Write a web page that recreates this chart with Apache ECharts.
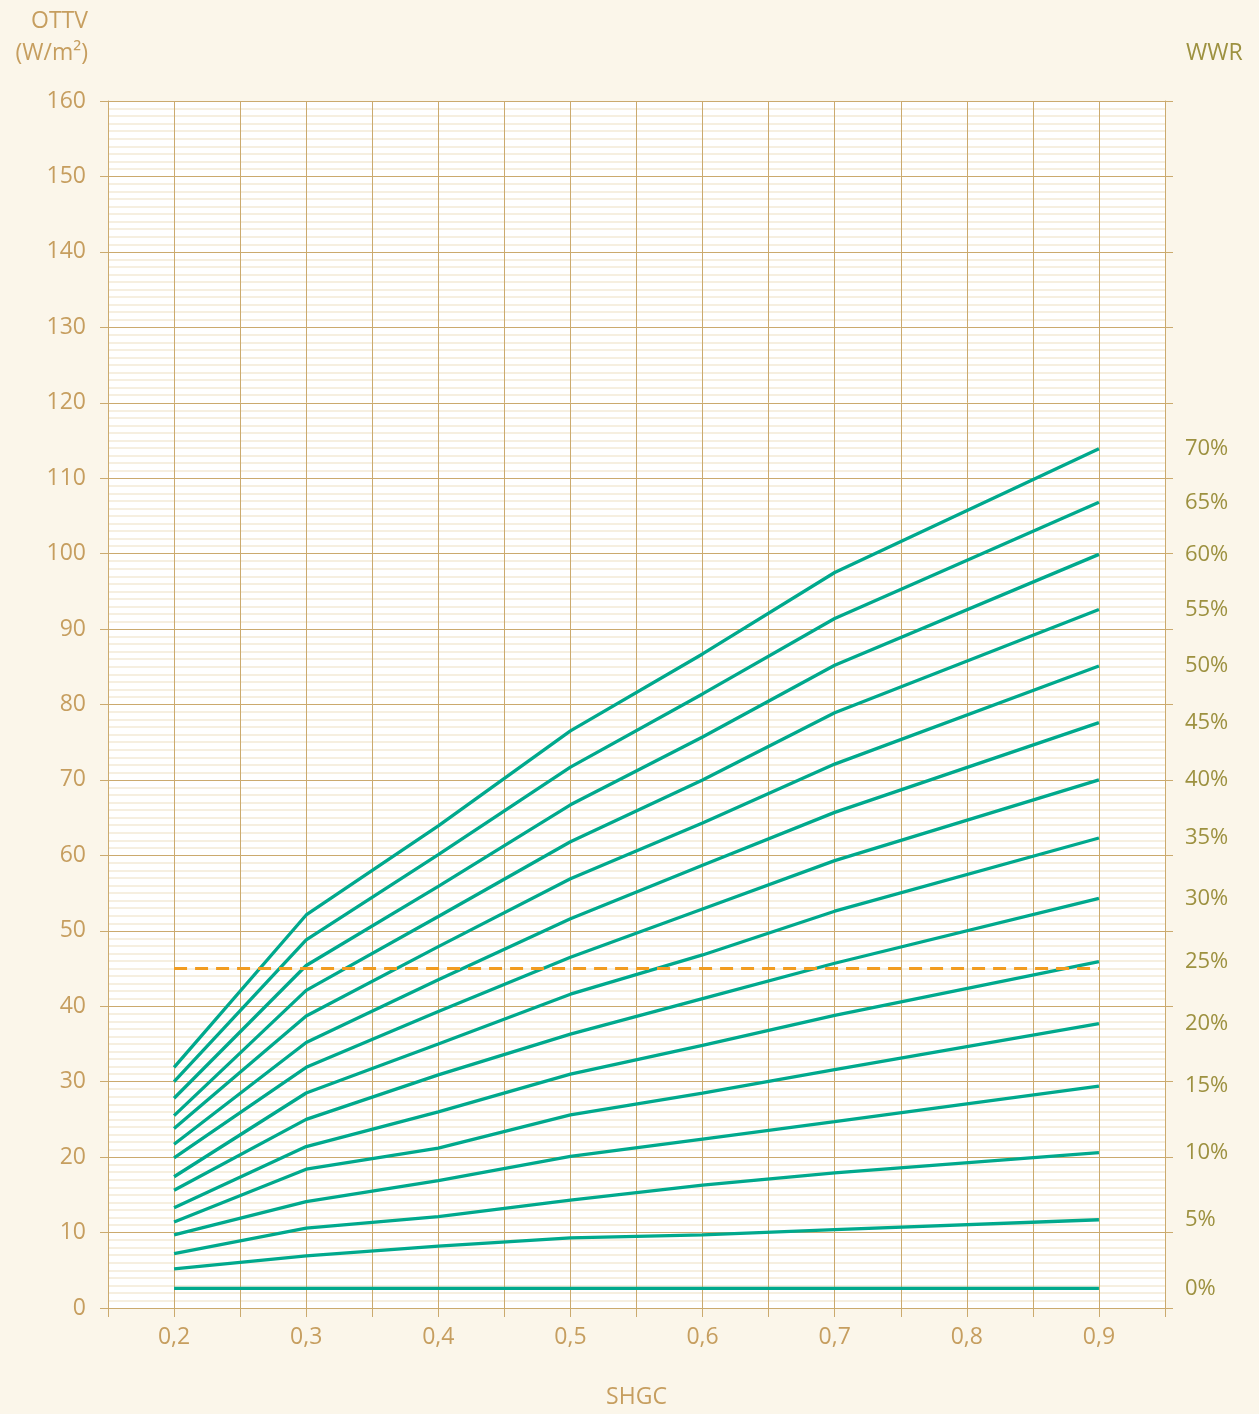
<!DOCTYPE html>
<html>
<head>
<meta charset="utf-8">
<script src="https://cdn.jsdelivr.net/npm/echarts@6/dist/echarts.min.js"></script>
<style>
html,body{margin:0;padding:0;background:#FBF6EA;width:1259px;height:1414px;overflow:hidden;}
#chart{width:1259px;height:1414px;}
</style>
</head>
<body>
<div id="chart"></div>
<script>
// SHGC positions of the read points
var shgc = [0.2, 0.3, 0.4, 0.5, 0.6, 0.7, 0.9];
// WWR labels for each curve (top to bottom)
var wwrLabels = ['70%', '65%', '60%', '55%', '50%', '45%', '40%', '35%', '30%', '25%', '20%', '15%', '10%', '5%', '0%'];
// OTTV values (W/m2) per curve
var wwr70 = [31.9, 52.1, 63.9, 76.5, 86.7, 97.5, 113.9];
var wwr65 = [30.0, 48.8, 60.1, 71.7, 81.4, 91.4, 106.8];
var wwr60 = [27.8, 45.4, 55.9, 66.7, 75.7, 85.2, 99.9];
var wwr55 = [25.5, 42.1, 51.9, 61.8, 70.0, 78.9, 92.6];
var wwr50 = [23.8, 38.7, 47.9, 56.9, 64.3, 72.1, 85.1];
var wwr45 = [21.7, 35.2, 43.5, 51.6, 58.7, 65.7, 77.6];
var wwr40 = [19.9, 31.9, 39.3, 46.5, 52.9, 59.3, 70.0];
var wwr35 = [17.4, 28.5, 35.0, 41.6, 46.8, 52.6, 62.3];
var wwr30 = [15.6, 25.0, 30.9, 36.3, 41.0, 45.7, 54.3];
var wwr25 = [13.3, 21.4, 26.0, 31.0, 34.8, 38.8, 45.9];
var wwr20 = [11.4, 18.4, 21.2, 25.6, 28.5, 31.6, 37.7];
var wwr15 = [9.7, 14.1, 16.9, 20.1, 22.4, 24.7, 29.4];
var wwr10 = [7.2, 10.6, 12.1, 14.3, 16.3, 17.9, 20.6];
var wwr5  = [5.2, 6.9, 8.2, 9.3, 9.7, 10.4, 11.7];
var wwr0  = [2.6, 2.6, 2.6, 2.6, 2.6, 2.6, 2.6];
// Reference limit line
var limitShgc = [0.2, 0.9];
var limitValue = [45, 45];
// Axis tick labels
var yTicks = [0, 10, 20, 30, 40, 50, 60, 70, 80, 90, 100, 110, 120, 130, 140, 150, 160];
var xTickLabels = ['0,2', '0,3', '0,4', '0,5', '0,6', '0,7', '0,8', '0,9'];

var curves = [wwr70, wwr65, wwr60, wwr55, wwr50, wwr45, wwr40, wwr35, wwr30, wwr25, wwr20, wwr15, wwr10, wwr5, wwr0];

var TAN = '#C69E5F';
var GRID = '#CBAA6E';
var MINOR = '#F4EAD6';
var OLIVE = '#9D9140';
var FONT = 'Open Sans';

function pairs(xs, ys) { return xs.map(function (x, i) { return [x, ys[i]]; }); }

var series = curves.map(function (vals, k) {
  return {
    type: 'line',
    data: pairs(shgc, vals),
    showSymbol: false,
    symbol: 'none',
    lineStyle: { color: '#00A98D', width: 3.3 },
    z: 3,
    endLabel: {
      show: true,
      distance: 86,
      formatter: function () { return wwrLabels[k]; },
      color: OLIVE,
      fontFamily: FONT,
      fontSize: 22
    }
  };
});
series.push({
  type: 'line',
  data: pairs(limitShgc, limitValue),
  showSymbol: false,
  symbol: 'none',
  lineStyle: { color: '#F29C1F', width: 3, type: [13, 8] },
  z: 4
});

var chart = echarts.init(document.getElementById('chart'), null, { renderer: 'canvas', width: 1259, height: 1414 });
chart.setOption({
  animation: false,
  backgroundColor: '#FBF6EA',
  textStyle: { fontFamily: FONT },
  grid: { left: 108, right: 94, top: 101, bottom: 97, show: true, backgroundColor: '#FFFFFF', borderWidth: 0 },
  xAxis: {
    type: 'value',
    min: 0.15, max: 0.95, interval: 0.05,
    name: 'SHGC', nameLocation: 'middle', nameGap: 78,
    nameTextStyle: { color: TAN, fontSize: 23, fontFamily: FONT },
    axisLine: { show: true, lineStyle: { color: GRID, width: 1 } },
    axisTick: { show: true, inside: false, length: 9, lineStyle: { color: GRID } },
    axisLabel: {
      color: TAN, fontSize: 23, fontFamily: FONT, margin: 18,
      showMinLabel: true, showMaxLabel: true,
      formatter: function (v) {
        var idx = Math.round(v * 10) - 2;
        if (Math.abs(v * 10 - Math.round(v * 10)) > 1e-6) return '';
        return (idx >= 0 && idx < xTickLabels.length) ? xTickLabels[idx] : '';
      }
    },
    splitLine: { show: true, lineStyle: { color: GRID, width: 1 } }
  },
  yAxis: [{
    type: 'value',
    min: yTicks[0], max: yTicks[yTicks.length - 1], interval: 10,
    position: 'left',
    axisLine: { show: true, lineStyle: { color: GRID, width: 1 } },
    axisTick: { show: true, length: 8, lineStyle: { color: GRID } },
    axisLabel: { color: TAN, fontSize: 23, fontFamily: FONT, margin: 22 },
    splitLine: { show: true, lineStyle: { color: GRID, width: 1 } },
    minorTick: { show: false, splitNumber: 10 },
    minorSplitLine: { show: true, lineStyle: { color: MINOR, width: 1.5 } }
  }, {
    type: 'value',
    min: yTicks[0], max: yTicks[yTicks.length - 1], interval: 10,
    position: 'right',
    axisLine: { show: true, lineStyle: { color: GRID, width: 1 } },
    axisTick: { show: true, length: 8, lineStyle: { color: GRID } },
    axisLabel: { show: false },
    splitLine: { show: false }
  }],
  graphic: [
    { type: 'text', right: 1259 - 88, top: 10, style: { text: 'OTTV', fill: TAN, font: '23px "Open Sans"', textAlign: 'right' } },
    { type: 'text', right: 1259 - 88, top: 42, style: { text: '(W/m²)', fill: TAN, font: '23px "Open Sans"', textAlign: 'right' } },
    { type: 'text', left: 1186, top: 42, style: { text: 'WWR', fill: OLIVE, font: '23px "Open Sans"' } }
  ],
  series: series
});
</script>
</body>
</html>
